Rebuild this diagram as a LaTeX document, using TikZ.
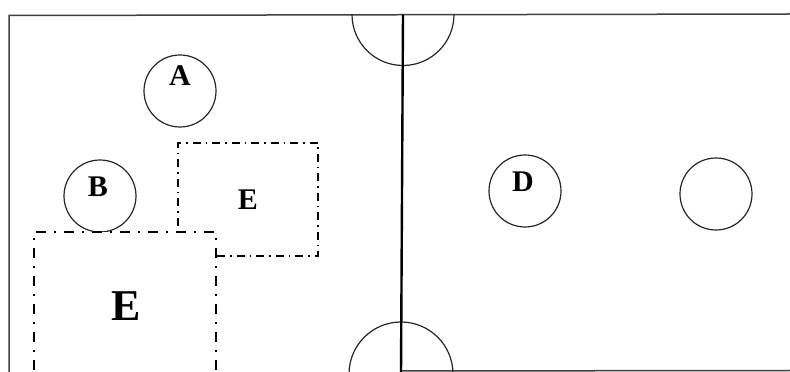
\documentclass[tikz,border=0pt]{standalone}
\usepackage{fontspec}
\setmainfont{Liberation Serif}
\usetikzlibrary{positioning, calc}

\begin{document}
\begin{tikzpicture}[
                x=1pt, y=1pt,
                font=\bfseries\fontsize{30}{32}\selectfont,
                wall/.style={line width=1.5pt, black!75},
                net/.style={line width=2.4pt, black},
                ring/.style={draw, circle, line width=1.2pt, black!85, minimum size=72pt, inner sep=0pt},
                zone/.style={draw, line width=1.4pt, dash pattern=on 8pt off 5pt on 1.5pt off 5pt, inner sep=0pt},
                bigzone/.style={draw, fill=white, line width=1.6pt, dash pattern=on 10pt off 8pt on 2pt off 8pt, inner sep=0pt},
                tag/.style={inner sep=0pt}
            ]
                \useasboundingbox (0,0) rectangle (790,372);
                \clip (0,0) rectangle (790,372);
                % court outline
                \coordinate (tl) at (9,356.5);
                \coordinate (tr) at (790,358);
                \coordinate (bl) at (9,-2);
                \coordinate (br) at (790,1.5);
                \coordinate (nettop) at (403,357.5);
                \coordinate (netbot) at (401,-2);
                \coordinate (netfoot) at (401,1);
                \draw[wall] (bl) -- (tl) -- (tr);
                \draw[wall] (netfoot) -- (br);
                \draw[line width=1.2pt, black!85] ([xshift=-51pt]nettop) arc[start angle=180, end angle=360, radius=51pt];
                \draw[line width=1.2pt, black!85] ([xshift=-52pt]netbot) arc[start angle=180, end angle=0, radius=52pt];
                % players
                \node[ring] (a) at (180,281) {};
                \node[ring] (b) at (100,176) {};
                \node[ring] (d) at (525,181) {};
                \node[ring] (free) at (716,178) {};
                \node[tag] at ([yshift=15pt]a.center) {A};
                \node[tag] at ([xshift=-2pt, yshift=9pt]b.center) {B};
                \node[tag] at ([xshift=-2pt, yshift=9pt]d.center) {D};
                % zones
                \node[zone, minimum width=140pt, minimum height=113pt] (esmall) at (248,172.5) {};
                \node[tag] at (esmall.center) {E};
                \node[bigzone, minimum width=182pt, minimum height=180pt] (ebig) at (125,50) {};
                \node[tag, font=\bfseries\fontsize{44}{46}\selectfont] at (126,66) {E};
                \draw[net] (nettop) -- (netbot);
            \end{tikzpicture}
\end{document}
